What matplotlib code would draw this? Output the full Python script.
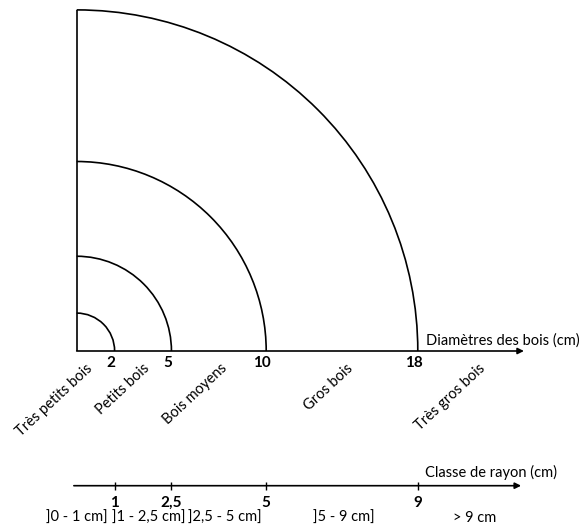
import matplotlib.pyplot as plt
from matplotlib.patches import Arc

plt.rcParams['font.family'] = ['Lato', 'DejaVu Sans']

# diameter classes (cm)
diam_limits = [2, 5, 10, 18]
diam_classes = ['Très petits bois', 'Petits bois', 'Bois moyens', 'Gros bois', 'Très gros bois']
diam_class_pos = [0.45, 3.5, 7.55, 14.2, 21.2]

# radius classes (cm)
rayon_ticks = [1, 2.5, 5, 9]
rayon_tick_labels = ['1', '2,5', '5', '9']
rayon_intervals = [']0 - 1 cm]', ']1 - 2,5 cm]', ']2,5 - 5 cm]', ']5 - 9 cm]', '> 9 cm']
rayon_interval_pos = [0.0, 1.9, 3.92, 7.05, 10.5]

px = 18.95  # pixels per cm of diameter
W, H = 585, 527
x0, y0 = 76.7, 351  # origin in pixels (from top-left)

fig = plt.figure(figsize=(W / 100, H / 100), dpi=100)
ax = fig.add_axes([0, 0, 1, 1])
ax.set_xlim(-x0 / px, (W - x0) / px)
ax.set_ylim(-(H - y0) / px, y0 / px)
ax.axis('off')

lw = 1.2
fs = 10.5
# quarter circles
for d in diam_limits:
    ax.add_patch(Arc((0, 0), 2 * d, 2 * d, theta1=0, theta2=90, lw=lw, color='black'))
ax.plot([0, 0], [0, max(diam_limits)], color='black', lw=lw, solid_capstyle='butt')

# diameter axis
ax.annotate('', xy=(23.6, 0), xytext=(0, 0),
            arrowprops=dict(arrowstyle='-|>', lw=lw, color='black', mutation_scale=9,
                            shrinkA=0, shrinkB=0))
ax.text(18.43, 0.55, 'Diamètres des bois (cm)', fontsize=fs, ha='left', va='center')
for d in diam_limits:
    ax.text(d - 0.2, -0.65, str(d), fontsize=11, fontweight='bold', ha='center', va='center')
for lab, p in zip(diam_classes, diam_class_pos):
    ax.text(p, -0.55, lab, fontsize=fs, rotation=43, rotation_mode='anchor',
            ha='right', va='top')

# radius axis (same scale: x = 2 * rayon)
yr = -(485.7 - y0) / px
ax.annotate('', xy=(23.45, yr), xytext=(-0.15, yr),
            arrowprops=dict(arrowstyle='-|>', lw=lw, color='black', mutation_scale=9,
                            shrinkA=0, shrinkB=0))
ax.plot([2 * r for r in rayon_ticks], [yr] * len(rayon_ticks), '|', color='black',
        ms=5.5, mew=1)
ax.text(18.38, yr + 0.68, 'Classe de rayon (cm)', fontsize=fs, ha='left', va='center')
for r, lab in zip(rayon_ticks, rayon_tick_labels):
    ax.text(2 * r, yr - 0.9, lab, fontsize=11, fontweight='bold', ha='center', va='center')
for r, lab in zip(rayon_interval_pos, rayon_intervals):
    ax.text(2 * r, yr - 1.7, lab, fontsize=fs, ha='center', va='center')

fig.savefig('out.png', dpi=100)
